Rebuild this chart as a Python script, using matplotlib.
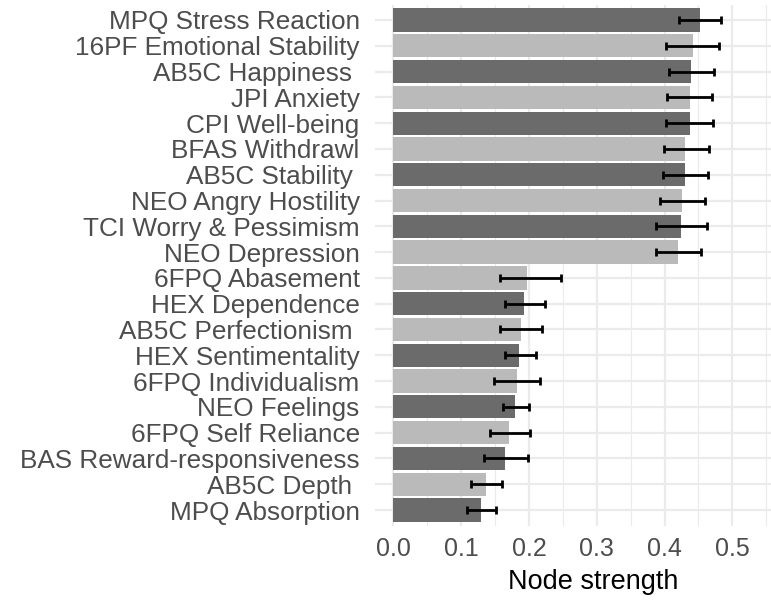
import numpy as np
import matplotlib.pyplot as plt
from matplotlib.ticker import MultipleLocator

# Escalas, de cima para baixo
scales = ["MPQ Stress Reaction", "16PF Emotional Stability", "AB5C Happiness ",
          "JPI Anxiety", "CPI Well-being", "BFAS Withdrawl", "AB5C Stability ",
          "NEO Angry Hostility", "TCI Worry & Pessimism", "NEO Depression",
          "6FPQ Abasement", "HEX Dependence", "AB5C Perfectionism ",
          "HEX Sentimentality", "6FPQ Individualism", "NEO Feelings",
          "6FPQ Self Reliance", "BAS Reward-responsiveness", "AB5C Depth ",
          "MPQ Absorption"]
strength = [0.452, 0.442, 0.439, 0.437, 0.437, 0.430, 0.430, 0.426, 0.425, 0.420,
            0.197, 0.193, 0.188, 0.186, 0.182, 0.180, 0.171, 0.165, 0.136, 0.129]
ci_low = [0.422, 0.402, 0.407, 0.403, 0.402, 0.399, 0.397, 0.393, 0.387, 0.388,
          0.157, 0.165, 0.158, 0.165, 0.149, 0.162, 0.142, 0.134, 0.115, 0.109]
ci_high = [0.483, 0.480, 0.473, 0.470, 0.472, 0.466, 0.464, 0.459, 0.462, 0.454,
           0.247, 0.224, 0.220, 0.210, 0.216, 0.200, 0.202, 0.199, 0.160, 0.151]
# tom da barra: 1 = escuro, 0 = claro
shade = [1, 0, 1, 0, 1, 0, 1, 0, 1, 0,
         0, 1, 0, 1, 0, 1, 0, 1, 0, 1]
x_ticks = [0.0, 0.1, 0.2, 0.3, 0.4, 0.5]

plt.rcParams['font.family'] = ['Liberation Sans', 'DejaVu Sans']

fig = plt.figure(figsize=(7.71, 6.03), dpi=100)
ax = fig.add_axes([375 / 771, 1 - 525.5 / 603, 436 / 771, 521 / 603])

n = len(scales)
y = np.arange(n)[::-1]
colors = ["#6b6b6b" if sh else "#bababa" for sh in shade]

ax.barh(y, strength, height=0.9, color=colors, zorder=2)
s = np.array(strength)
xerr = [s - np.array(ci_low), np.array(ci_high) - s]
ax.errorbar(strength, y, xerr=xerr, fmt='none', ecolor='black', elinewidth=2,
            capsize=3, capthick=2, zorder=3)

ax.set_yticks(y)
ax.set_yticklabels(scales, fontsize=18.8, color="#4d4d4d")
ax.set_xticks(x_ticks)
ax.set_xticklabels([f"{t:.1f}" for t in x_ticks], fontsize=18, color="#4d4d4d")
ax.xaxis.set_minor_locator(MultipleLocator(0.05))
ax.set_xlim(-0.027, 0.616)
ax.set_ylim(-0.6, n - 0.4)
ax.set_xlabel("Node strength", fontsize=19.5, color="black", labelpad=6)

ax.grid(True, which='major', color="#ebebeb", linewidth=1.6, zorder=0)
ax.grid(True, which='minor', axis='x', color="#ebebeb", linewidth=0.8, zorder=0)
ax.set_axisbelow(True)
ax.tick_params(axis='both', which='both', length=0)
ax.tick_params(axis='y', pad=11)
ax.tick_params(axis='x', pad=8)
for sp in ax.spines.values():
    sp.set_visible(False)

fig.savefig("out.png", dpi=100)
